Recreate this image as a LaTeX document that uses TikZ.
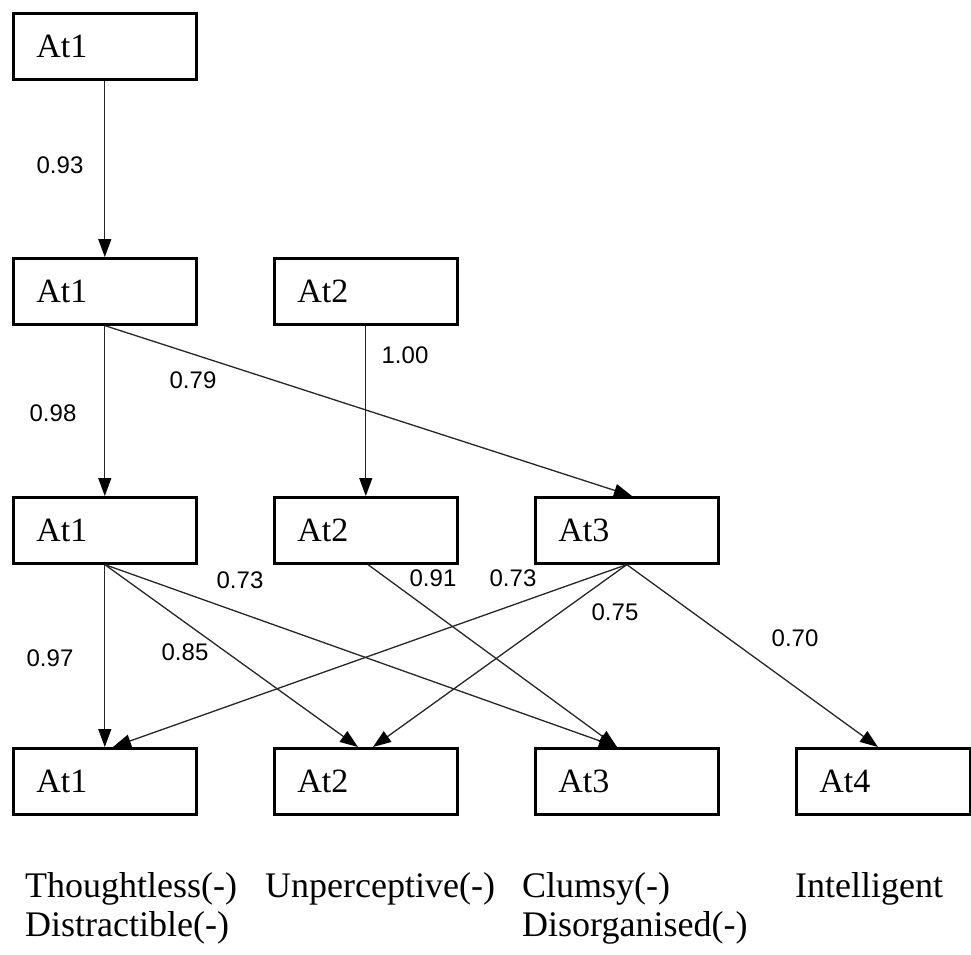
\documentclass[tikz,border=0pt]{standalone}
\usepackage{fontspec}
\setmainfont{Liberation Serif}
\newfontfamily\numfont{Liberation Sans}
\usetikzlibrary{arrows.meta}
\begin{document}
\begin{tikzpicture}[x=1pt,y=1pt,
  box/.style={draw=black, line width=2.6pt, rectangle, anchor=north west,
    minimum height=66pt, text width=137pt, inner xsep=23pt, inner ysep=0pt,
    align=left, font=\fontsize{34}{36}\selectfont},
  link/.style={line width=1.3pt, draw=black!85,
    -{Triangle[width=13pt,length=18pt,fill=black,color=black]}},
  coef/.style={font=\numfont\fontsize{24}{24}\selectfont, inner sep=0pt},
  trait/.style={anchor=north west, align=left, inner sep=0pt,
    font=\fontsize{36}{39}\selectfont}]
\useasboundingbox (0,0) rectangle (971,-954);

% level 0
\node[box] (b00) at (12,-12) {At1};
% level 1
\node[box] (b10) at (12,-257) {At1};
\node[box] (b11) at (273,-257) {At2};
% level 2
\node[box] (b20) at (12,-496) {At1};
\node[box] (b21) at (273,-496) {At2};
\node[box] (b22) at (534,-496) {At3};
% level 3
\node[box] (b30) at (12,-747) {At1};
\node[box] (b31) at (273,-747) {At2};
\node[box] (b32) at (534,-747) {At3};
\node[box, text width=128pt] (b33) at (795,-747) {At4};

% paths
\draw[link] (b00.south) -- (b10.north);
\draw[link] (b10.south) -- (b20.north);
\draw[link] (b10.south) -- ([xshift=98pt]b22.north west);
\draw[link] (b11.south) -- (b21.north);
\draw[link] (b20.south) -- (b30.north);
\draw[link] (b20.south) -- ([xshift=85pt]b31.north west);
\draw[link] (b20.south) -- ([xshift=83pt]b32.north west);
\draw[link] ([xshift=95pt]b21.south west) -- ([xshift=83pt]b32.north west);
\draw[link] (b22.south) -- ([xshift=101pt]b30.north west);
\draw[link] (b22.south) -- ([xshift=100pt]b31.north west);
\draw[link] (b22.south) -- ([xshift=83pt]b33.north west);

% coefficients
\node[coef] (c1) at (60,-165) {0.93};
\node[coef] (c2) at (53,-413) {0.98};
\node[coef] (c3) at (193,-380) {0.79};
\node[coef] (c4) at (405,-355) {1.00};
\node[coef] (c5) at (50,-658) {0.97};
\node[coef] (c6) at (185,-652) {0.85};
\node[coef] (c7) at (240,-580) {0.73};
\node[coef] (c8) at (433,-578) {0.91};
\node[coef] (c9) at (513,-578) {0.73};
\node[coef] (c10) at (615,-612) {0.75};
\node[coef] (c11) at (795,-638) {0.70};

% trait labels
\node[trait] (l1) at (25,-872) {Thoughtless(-)\\Distractible(-)};
\node[trait] (l2) at (265,-872) {Unperceptive(-)};
\node[trait] (l3) at (522,-872) {Clumsy(-)\\Disorganised(-)};
\node[trait] (l4) at (795,-872) {Intelligent};
\end{tikzpicture}
\end{document}
